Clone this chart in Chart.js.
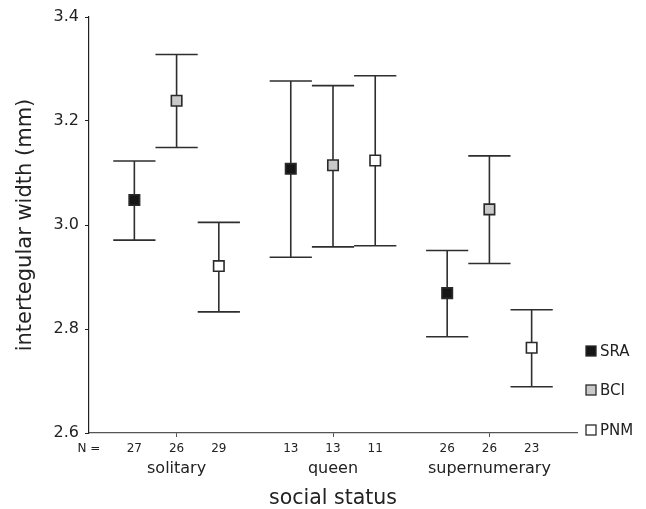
<!DOCTYPE html>
<html>
<head>
<meta charset="utf-8">
<script src="https://cdn.jsdelivr.net/npm/chart.js@4.4.1/dist/chart.umd.min.js"></script>
<style>
  html, body { margin: 0; padding: 0; background: #ffffff; }
  #wrap { width: 646px; height: 509px; position: relative; }
</style>
</head>
<body>
<div id="wrap"><canvas id="c" width="646" height="509"></canvas></div>
<script>
// ---- data ----
const categories = ['solitary', 'queen', 'supernumerary'];
const seriesNames = ['SRA', 'BCI', 'PNM'];

const nSRA = [27, 13, 26];
const nBCI = [26, 13, 26];
const nPNM = [29, 11, 23];

const meanSRA = [3.048, 3.108, 2.869];
const meanBCI = [3.239, 3.115, 3.030];
const meanPNM = [2.921, 3.124, 2.764];

const upperSRA = [3.123, 3.277, 2.951];
const upperBCI = [3.328, 3.268, 3.133];
const upperPNM = [3.005, 3.287, 2.837];

const lowerSRA = [2.971, 2.938, 2.785];
const lowerBCI = [3.149, 2.958, 2.926];
const lowerPNM = [2.833, 2.960, 2.689];

const yTicks = [2.6, 2.8, 3.0, 3.2, 3.4];
const nPrefix = 'N =';

// ---- styling / layout ----
const FONT = "'DejaVu Sans', sans-serif";
const INK = '#222222';
const fills = ['#151515', '#c9c9c9', '#ffffff'];
const offsets = [-0.27, 0, 0.27];
const xMin = -0.56, xMax = 2.56;
const capHalf = 0.135;

const means = [meanSRA, meanBCI, meanPNM];
const uppers = [upperSRA, upperBCI, upperPNM];
const lowers = [lowerSRA, lowerBCI, lowerPNM];
const counts = [nSRA, nBCI, nPNM];

const datasets = seriesNames.map((name, s) => ({
  label: name,
  data: categories.map((c, i) => ({ x: i + offsets[s], y: means[s][i], hi: uppers[s][i], lo: lowers[s][i] })),
  pointStyle: 'rect',
  pointRadius: 7.4,
  pointHoverRadius: 7.4,
  backgroundColor: fills[s],
  borderColor: '#2a2a2a',
  borderWidth: 1.6,
  showLine: false
}));

// N tick positions and labels (left "N =" then per category/series)
const nTickValues = [xMin];
const nTickLabels = [nPrefix];
categories.forEach((c, i) => {
  seriesNames.forEach((s, k) => {
    nTickValues.push(i + offsets[k]);
    nTickLabels.push(String(counts[k][i]));
  });
});

const errorBars = {
  id: 'errorBars',
  beforeDatasetsDraw(chart) {
    const { ctx, scales } = chart;
    const xs = scales.x, ys = scales.y;
    const cap = xs.getPixelForValue(capHalf) - xs.getPixelForValue(0);
    ctx.save();
    ctx.strokeStyle = '#2e2e2e';
    ctx.lineWidth = 1.6;
    chart.data.datasets.forEach(ds => {
      ds.data.forEach(p => {
        const x = xs.getPixelForValue(p.x);
        const yh = ys.getPixelForValue(p.hi);
        const yl = ys.getPixelForValue(p.lo);
        ctx.beginPath();
        ctx.moveTo(x, yh); ctx.lineTo(x, yl);
        ctx.moveTo(x - cap, yh); ctx.lineTo(x + cap, yh);
        ctx.moveTo(x - cap, yl); ctx.lineTo(x + cap, yl);
        ctx.stroke();
      });
    });
    ctx.restore();
  }
};

const sideLegend = {
  id: 'sideLegend',
  afterDraw(chart) {
    const { ctx, chartArea } = chart;
    const gaps = [82, 43, 3];
    ctx.save();
    ctx.font = "15px " + FONT;
    ctx.textBaseline = 'middle';
    ctx.textAlign = 'left';
    chart.data.datasets.forEach((ds, s) => {
      const y = chartArea.bottom - gaps[s];
      const x = chartArea.right + 9;
      ctx.fillStyle = ds.backgroundColor;
      ctx.fillRect(x, y - 5, 10, 10);
      ctx.strokeStyle = '#2a2a2a';
      ctx.lineWidth = 1.3;
      ctx.strokeRect(x, y - 5, 10, 10);
      ctx.fillStyle = INK;
      ctx.fillText(ds.label, x + 14, y + 1);
    });
    ctx.restore();
  }
};

new Chart(document.getElementById('c'), {
  type: 'scatter',
  data: { datasets },
  plugins: [errorBars, sideLegend],
  options: {
    responsive: false,
    animation: false,
    layout: { padding: { top: 17, right: 69, left: 13, bottom: 0 } },
    plugins: { legend: { display: false }, tooltip: { enabled: false } },
    scales: {
      x: {
        type: 'linear', position: 'bottom', min: xMin, max: xMax, weight: 0,
        afterBuildTicks: sc => { sc.ticks = nTickValues.map(v => ({ value: v })); },
        afterFit: sc => { sc.height = 24; },
        ticks: {
          autoSkip: false, maxRotation: 0, minRotation: 0, padding: 5,
          font: { family: FONT, size: 12 }, color: INK,
          callback: (v, i) => nTickLabels[i]
        },
        grid: {
          drawOnChartArea: false, tickLength: 4,
          tickColor: c => (c.tick && Number.isInteger(Math.round(c.tick.value * 1000) / 1000) && c.tick.value >= 0) ? '#555555' : 'rgba(0,0,0,0)'
        },
        border: { color: '#555555', width: 1.2 }
      },
      x2: {
        type: 'linear', position: 'bottom', min: xMin, max: xMax, weight: 1,
        afterBuildTicks: sc => { sc.ticks = categories.map((c, i) => ({ value: i })); },
        afterFit: sc => { sc.height = 52; },
        ticks: {
          autoSkip: false, maxRotation: 0, minRotation: 0, padding: 2,
          font: { family: FONT, size: 16 }, color: INK,
          callback: (v, i) => categories[i]
        },
        grid: { display: false, drawTicks: false },
        border: { display: false },
        title: { display: true, text: 'social status', font: { family: FONT, size: 20.5, lineHeight: 1.0 }, color: INK, padding: { top: 8, bottom: 0 } }
      },
      y: {
        type: 'linear', min: 2.6, max: 3.4,
        afterBuildTicks: sc => { sc.ticks = yTicks.map(v => ({ value: v })); },
        afterFit: sc => { sc.width = 76; },
        ticks: {
          padding: 6, font: { family: FONT, size: 16 }, color: INK,
          callback: v => v.toFixed(1)
        },
        grid: { drawOnChartArea: false, tickLength: 4, tickColor: INK },
        border: { color: INK, width: 1.2 },
        title: { display: true, text: 'intertegular width (mm)', font: { family: FONT, size: 21 }, color: INK, padding: { top: 0, bottom: 4 } }
      }
    }
  }
});
</script>
</body>
</html>
